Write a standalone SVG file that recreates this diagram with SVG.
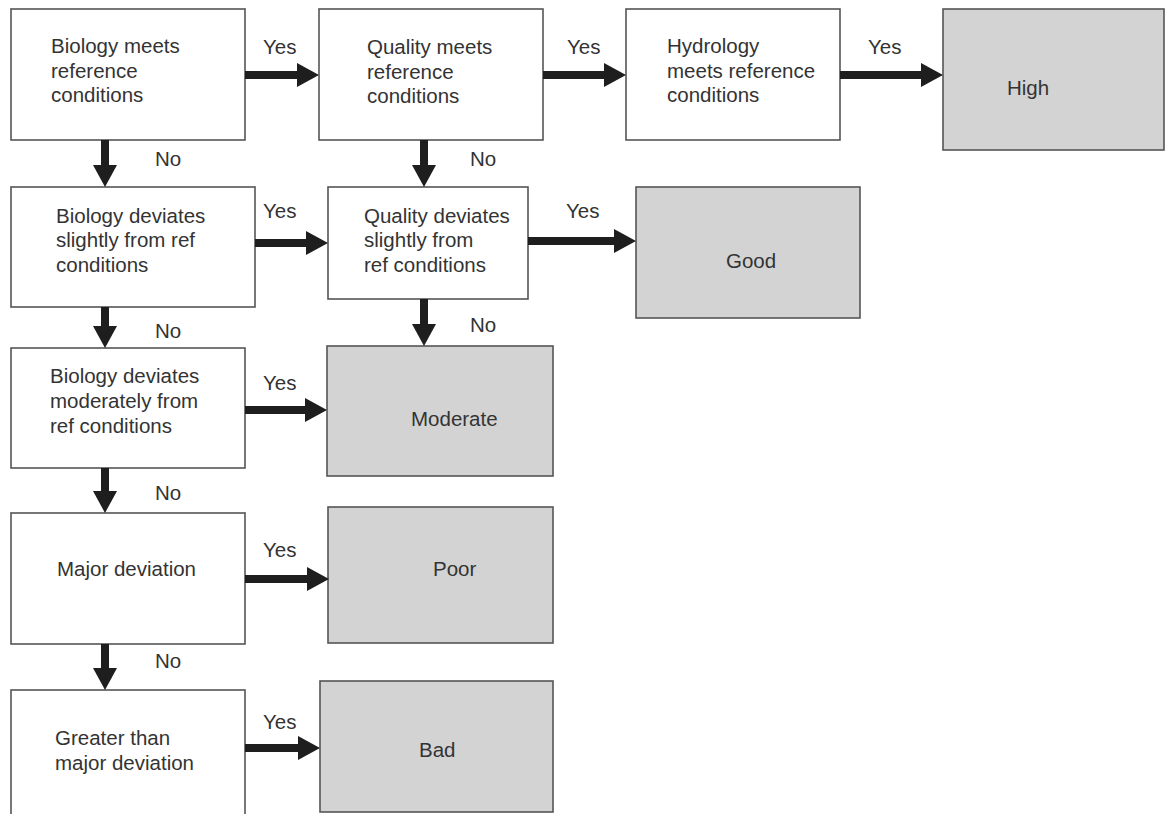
<svg xmlns="http://www.w3.org/2000/svg" width="1168" height="814" viewBox="0 0 1168 814">
<defs>
<style>
.box{fill:#ffffff;stroke:#555555;stroke-width:1.6}
.out{fill:#d3d3d3;stroke:#555555;stroke-width:1.6}
text{font-family:"Liberation Sans",Arial,Helvetica,sans-serif;font-size:20.5px;fill:#333333}
.conn line{stroke:#1e1e1e;stroke-width:8;marker-end:url(#ah)}
</style>
<marker id="ah" markerUnits="userSpaceOnUse" markerWidth="22" markerHeight="24" viewBox="0 0 22 24" refX="6" refY="12" orient="auto">
<path d="M0,0 L22,12 L0,24 Z" fill="#1e1e1e"/>
</marker>
</defs>
<rect width="1168" height="814" fill="#ffffff"/>

<g id="n-bio-meets"><rect class="box" x="11" y="9" width="234" height="131"/>
<text x="51" y="53">Biology meets</text><text x="51" y="78">reference</text><text x="51" y="102">conditions</text></g>
<g id="n-qual-meets"><rect class="box" x="319" y="9" width="224" height="131"/>
<text x="367" y="54">Quality meets</text><text x="367" y="79">reference</text><text x="367" y="103">conditions</text></g>
<g id="n-hydro"><rect class="box" x="626" y="9" width="214" height="131"/>
<text x="667" y="53">Hydrology</text><text x="667" y="78">meets reference</text><text x="667" y="102">conditions</text></g>
<g id="n-high"><rect class="out" x="943" y="9" width="221" height="141"/>
<text x="1007" y="95">High</text></g>

<g id="n-bio-slight"><rect class="box" x="11" y="187" width="244" height="120"/>
<text x="56" y="223">Biology deviates</text><text x="56" y="247">slightly from ref</text><text x="56" y="272">conditions</text></g>
<g id="n-qual-slight"><rect class="box" x="328" y="187" width="200" height="112"/>
<text x="364" y="223">Quality deviates</text><text x="364" y="247">slightly from</text><text x="364" y="272">ref conditions</text></g>
<g id="n-good"><rect class="out" x="636" y="187" width="224" height="131"/>
<text x="726" y="268">Good</text></g>

<g id="n-bio-mod"><rect class="box" x="11" y="348" width="234" height="120"/>
<text x="50" y="383">Biology deviates</text><text x="50" y="408">moderately from</text><text x="50" y="433">ref conditions</text></g>
<g id="n-moderate"><rect class="out" x="327" y="346" width="226" height="130"/>
<text x="411" y="426">Moderate</text></g>

<g id="n-major"><rect class="box" x="11" y="513" width="234" height="131"/>
<text x="57" y="576">Major deviation</text></g>
<g id="n-poor"><rect class="out" x="328" y="507" width="225" height="136"/>
<text x="433" y="576">Poor</text></g>

<g id="n-greater"><rect class="box" x="11" y="690" width="234" height="140"/>
<text x="55" y="745">Greater than</text><text x="55" y="770">major deviation</text></g>
<g id="n-bad"><rect class="out" x="320" y="681" width="233" height="131"/>
<text x="419" y="757">Bad</text></g>

<g id="connectors" class="conn">
<line x1="245" y1="75" x2="303" y2="75"/>
<line x1="543" y1="75" x2="610" y2="75"/>
<line x1="840" y1="75" x2="927" y2="75"/>
<line x1="105" y1="140" x2="105" y2="171"/>
<line x1="424" y1="140" x2="424" y2="171"/>
<line x1="255" y1="243" x2="312" y2="243"/>
<line x1="528" y1="241" x2="620" y2="241"/>
<line x1="105" y1="307" x2="105" y2="332"/>
<line x1="424" y1="299" x2="424" y2="330"/>
<line x1="245" y1="410" x2="311" y2="410"/>
<line x1="105" y1="468" x2="105" y2="497"/>
<line x1="245" y1="579" x2="313" y2="579"/>
<line x1="105" y1="644" x2="105" y2="674"/>
<line x1="245" y1="748" x2="304" y2="748"/>
</g>
<g id="labels">
<text x="263" y="54">Yes</text>
<text x="567" y="54">Yes</text>
<text x="868" y="54">Yes</text>
<text x="263" y="218">Yes</text>
<text x="566" y="218">Yes</text>
<text x="263" y="390">Yes</text>
<text x="263" y="557">Yes</text>
<text x="263" y="729">Yes</text>
<text x="155" y="166">No</text>
<text x="470" y="166">No</text>
<text x="155" y="338">No</text>
<text x="470" y="332">No</text>
<text x="155" y="500">No</text>
<text x="155" y="668">No</text>
</g>
</svg>
